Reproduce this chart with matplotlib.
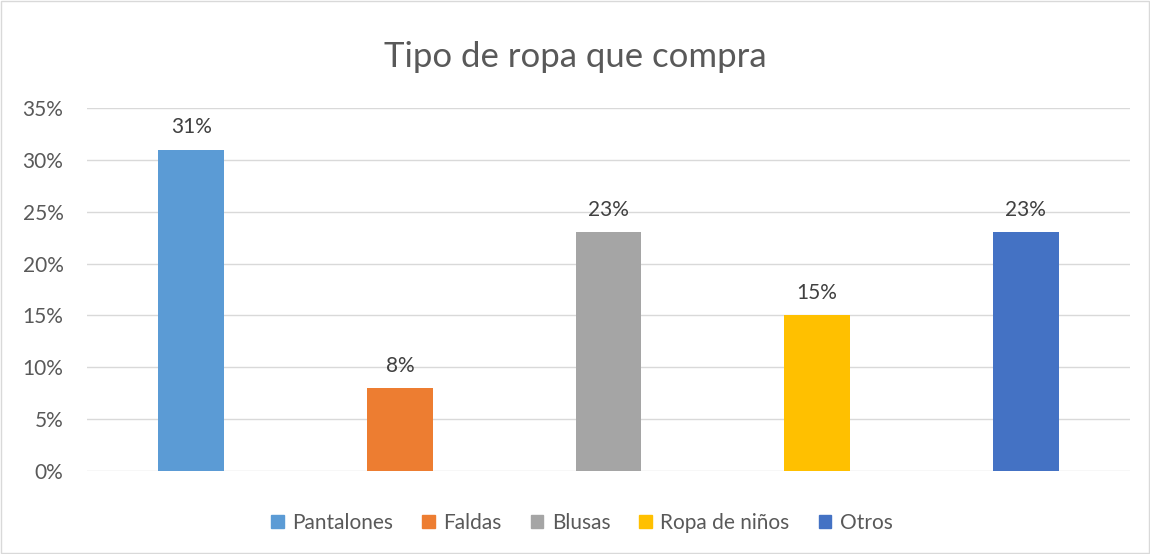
import matplotlib.pyplot as plt
from matplotlib.patches import Patch, Rectangle
import numpy as np

plt.rcParams['font.family'] = ['Lato', 'DejaVu Sans']

categorias = ['Pantalones', 'Faldas', 'Blusas', 'Ropa de niños', 'Otros']
valores = [0.31, 0.08, 0.23, 0.15, 0.23]
colores = ['#5B9BD5', '#ED7D31', '#A5A5A5', '#FFC000', '#4472C4']
ticks = [0, 0.05, 0.10, 0.15, 0.20, 0.25, 0.30, 0.35]

fig = plt.figure(figsize=(11.5, 5.54), dpi=100)
ax = fig.add_axes([0.0757, 0.1498, 0.9069, 0.6552])

x = np.arange(len(categorias))
bars = ax.bar(x, valores, width=0.316, color=colores, zorder=3)
for b, v in zip(bars, valores):
    ax.annotate('%d%%' % round(v * 100), (b.get_x() + b.get_width() / 2, v),
                xytext=(0, 9), textcoords='offset points', ha='center', va='bottom',
                fontsize=15, color='#404040')

ax.set_xlim(-0.5, 4.5)
ax.set_ylim(0, 0.35)
ax.set_yticks(ticks)
ax.set_yticklabels(['%d%%' % round(t * 100) for t in ticks])
ax.set_xticks([])
ax.grid(axis='y', color='#D9D9D9', linewidth=1, zorder=0)
for s in ax.spines.values():
    s.set_visible(False)
ax.tick_params(axis='y', length=0, labelsize=15, labelcolor='#595959', pad=17)

fig.text(0.5, 0.898, 'Tipo de ropa que compra', ha='center', va='center',
         fontsize=25, color='#595959')

handles = [Patch(color=c, label=n) for c, n in zip(colores, categorias)]
fig.legend(handles=handles, loc='center', bbox_to_anchor=(0.506, 0.056), ncol=5,
           frameon=False, fontsize=15, handlelength=0.6, handleheight=0.6,
           handletextpad=0.4, columnspacing=1.4, labelcolor='#595959')

fig.patches.append(Rectangle((0.001, 0.001), 0.998, 0.998, transform=fig.transFigure,
                             fill=False, edgecolor='#D9D9D9', linewidth=1))

plt.savefig('out.png')
